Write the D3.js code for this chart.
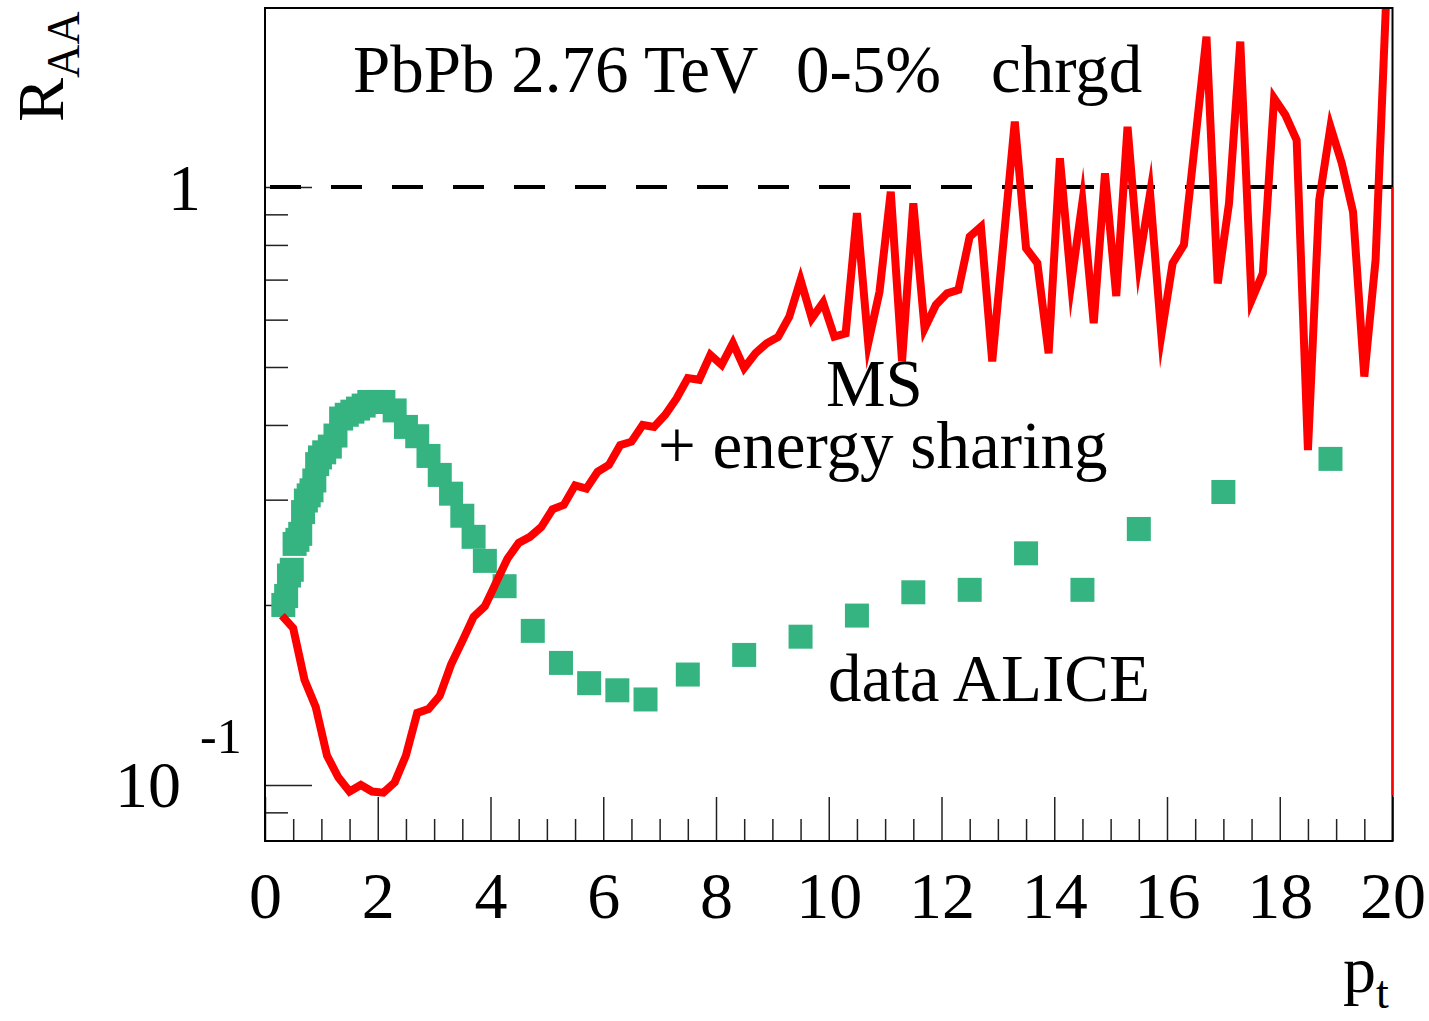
<!DOCTYPE html>
<html lang="en">
<head>
<meta charset="UTF-8">
<title>R_AA PbPb 2.76 TeV</title>
<script src="https://d3js.org/d3.v7.min.js"></script>
<style>
    body { margin: 0; background: white; }
    svg text { font-family: "Liberation Serif", "Times New Roman", serif; fill: black; }
    .axis path { display: none; }
    .axis line { stroke: #222; stroke-width: 1.5; }
</style>
</head>
<body>
<div id="chart"></div>
<script>
    // model curve: MS + energy sharing
    const modelPt = [0.3, 0.5, 0.7, 0.9, 1.1, 1.3, 1.5, 1.7, 1.9, 2.1, 2.3, 2.5, 2.7, 2.9, 3.1, 3.3, 3.5, 3.7, 3.9,
        4.1, 4.3, 4.5, 4.7, 4.9, 5.1, 5.3, 5.5, 5.7, 5.9, 6.1, 6.3, 6.5, 6.7, 6.9, 7.1, 7.3, 7.5, 7.7, 7.9,
        8.1, 8.3, 8.5, 8.7, 8.9, 9.1, 9.3, 9.5, 9.7, 9.9, 10.1, 10.3, 10.5, 10.7, 10.9, 11.1, 11.3, 11.5, 11.7, 11.9,
        12.1, 12.3, 12.5, 12.7, 12.9, 13.3, 13.5, 13.7, 13.9, 14.1, 14.3, 14.5, 14.7, 14.9,
        15.1, 15.3, 15.5, 15.7, 15.9, 16.1, 16.3, 16.7, 16.9, 17.1, 17.3, 17.5, 17.7, 17.9,
        18.1, 18.3, 18.5, 18.7, 18.9, 19.1, 19.3, 19.5, 19.7, 19.9];
    const modelRaa = [0.192, 0.183, 0.150, 0.135, 0.112, 0.103, 0.0975, 0.100, 0.0975, 0.0971, 0.101, 0.112, 0.132, 0.134, 0.141, 0.159, 0.174, 0.191, 0.199,
        0.218, 0.239, 0.254, 0.260, 0.270, 0.289, 0.294, 0.317, 0.313, 0.334, 0.343, 0.370, 0.375, 0.400, 0.397, 0.416, 0.443, 0.479, 0.476, 0.524,
        0.504, 0.548, 0.498, 0.527, 0.548, 0.561, 0.607, 0.699, 0.603, 0.641, 0.562, 0.569, 0.904, 0.548, 0.668, 0.982, 0.511, 0.939, 0.580, 0.635,
        0.664, 0.673, 0.826, 0.858, 0.511, 1.286, 0.790, 0.746, 0.527, 1.117, 0.690, 0.945, 0.592, 1.054,
        0.657, 1.261, 0.746, 0.976, 0.566, 0.746, 0.800, 1.784, 0.690, 0.939, 1.750, 0.647, 0.717, 1.407,
        1.319, 1.198, 0.363, 0.951, 1.261, 1.096, 0.909, 0.482, 0.755, 2.2];

    // ALICE data points
    const alicePt = [0.325, 0.375, 0.425, 0.475, 0.525, 0.575, 0.625, 0.675, 0.725, 0.775, 0.825, 0.875, 0.925, 0.975,
        1.05, 1.15, 1.25, 1.35, 1.45, 1.55, 1.65, 1.75, 1.85, 1.95,
        2.1, 2.3, 2.5, 2.7, 2.9, 3.1, 3.3, 3.5, 3.7, 3.9,
        4.25, 4.75, 5.25, 5.75, 6.25, 6.75, 7.5, 8.5, 9.5, 10.5, 11.5, 12.5, 13.5, 14.5, 15.5, 17, 18.9];
    const aliceRaa = [0.200, 0.207, 0.224, 0.229, 0.253, 0.257, 0.263, 0.286, 0.299, 0.305, 0.311, 0.323, 0.344, 0.353,
        0.360, 0.368, 0.384, 0.410, 0.416, 0.421, 0.426, 0.431, 0.437, 0.437,
        0.437, 0.423, 0.397, 0.383, 0.355, 0.330, 0.307, 0.282, 0.260, 0.237,
        0.215, 0.181, 0.160, 0.148, 0.144, 0.139, 0.153, 0.165, 0.177, 0.192, 0.210, 0.212, 0.244, 0.212, 0.268, 0.309, 0.351];

    const xMajor = [0, 2, 4, 6, 8, 10, 12, 14, 16, 18, 20];
    const xMinor = d3.range(0.5, 20, 0.5).filter(d => d % 2 !== 0);
    const yMajor = [0.1, 1];
    const yMinor = [0.09, 0.2, 0.3, 0.4, 0.5, 0.6, 0.7, 0.8, 0.9];

    const W = 1429, H = 1021;
    const frame = { left: 265, right: 1392.5, top: 8, bottom: 841 };

    const svg = d3.select("#chart").append("svg")
        .attr("width", W)
        .attr("height", H);

    const x = d3.scaleLinear().domain([0, 20]).range([frame.left, frame.right]);
    const y = d3.scaleLog().domain([0.0806, 1.992]).range([frame.bottom, frame.top]);

    svg.append("defs").append("clipPath")
        .attr("id", "plot-clip")
        .append("rect")
        .attr("x", frame.left)
        .attr("y", frame.top)
        .attr("width", frame.right - frame.left)
        .attr("height", frame.bottom - frame.top);

    // axes, ROOT style ticks pointing inward
    svg.append("g")
        .attr("class", "axis")
        .attr("transform", `translate(0,${frame.bottom})`)
        .call(d3.axisBottom(x).tickValues(xMinor).tickSize(-22).tickFormat(""));

    const xAxis = svg.append("g")
        .attr("class", "axis")
        .attr("transform", `translate(0,${frame.bottom})`)
        .call(d3.axisBottom(x).tickValues(xMajor).tickSize(-44).tickPadding(30).tickFormat(d3.format("d")));
    xAxis.selectAll("text")
        .attr("font-size", 66)
        .attr("font-family", "Liberation Serif, Times New Roman, serif");

    svg.append("g")
        .attr("class", "axis")
        .attr("transform", `translate(${frame.left},0)`)
        .call(d3.axisLeft(y).tickValues(yMinor).tickSize(-23).tickFormat(""));

    svg.append("g")
        .attr("class", "axis")
        .attr("transform", `translate(${frame.left},0)`)
        .call(d3.axisLeft(y).tickValues(yMajor).tickSize(-47).tickFormat(""));

    // y tick labels
    svg.append("text")
        .attr("x", 201)
        .attr("y", y(1) + 23)
        .attr("text-anchor", "end")
        .attr("font-size", 66)
        .text("1");

    svg.append("text")
        .attr("x", 115)
        .attr("y", y(0.1) + 22)
        .attr("font-size", 66)
        .text("10");

    svg.append("text")
        .attr("x", 200)
        .attr("y", y(0.1) - 32)
        .attr("font-size", 50)
        .text("-1");

    // dashed line at 1
    svg.append("line")
        .attr("x1", x(0))
        .attr("x2", x(20))
        .attr("y1", y(1))
        .attr("y2", y(1))
        .attr("stroke", "black")
        .attr("stroke-width", 4)
        .attr("stroke-dasharray", "31,30")
        .attr("stroke-dashoffset", 56);

    // data squares
    svg.append("g")
        .selectAll("rect")
        .data(alicePt)
        .join("rect")
        .attr("x", (d, i) => x(d) - 12)
        .attr("y", (d, i) => y(aliceRaa[i]) - 12)
        .attr("width", 24)
        .attr("height", 24)
        .attr("fill", "#35b482");

    // model curve
    const line = d3.line()
        .x((d, i) => x(modelPt[i]))
        .y(d => y(d));

    svg.append("path")
        .datum(modelRaa)
        .attr("clip-path", "url(#plot-clip)")
        .attr("d", line)
        .attr("fill", "none")
        .attr("stroke", "#ff0000")
        .attr("stroke-width", 8)
        .attr("stroke-linejoin", "miter")
        .attr("stroke-miterlimit", 10);

    // frame
    svg.append("rect")
        .attr("x", frame.left)
        .attr("y", frame.top)
        .attr("width", frame.right - frame.left)
        .attr("height", frame.bottom - frame.top)
        .attr("fill", "none")
        .attr("stroke", "black")
        .attr("stroke-width", 2);

    // thin red edge at pt = 20
    svg.append("line")
        .attr("x1", x(20))
        .attr("x2", x(20))
        .attr("y1", y(1))
        .attr("y2", y(0.0962))
        .attr("stroke", "#ff0000")
        .attr("stroke-width", 2);

    // labels
    const labels = [
        { t: "PbPb 2.76 TeV", x: 353, y: 92 },
        { t: "0-5%", x: 796, y: 92 },
        { t: "chrgd", x: 991, y: 92 },
        { t: "MS", x: 826, y: 406 },
        { t: "+ energy sharing", x: 658, y: 468 },
        { t: "data ALICE", x: 828, y: 701 }
    ];
    svg.append("g")
        .selectAll("text")
        .data(labels)
        .join("text")
        .attr("x", d => d.x)
        .attr("y", d => d.y)
        .attr("font-size", 67)
        .text(d => d.t);

    // axis titles
    const yTitle = svg.append("text")
        .attr("transform", "translate(63,122) rotate(-90)")
        .attr("font-size", 66);
    yTitle.append("tspan").text("R");
    yTitle.append("tspan").attr("font-size", 46).attr("dy", 16).text("AA");

    const xTitle = svg.append("text")
        .attr("x", 1343)
        .attr("y", 992)
        .attr("font-size", 66);
    xTitle.append("tspan").text("p");
    xTitle.append("tspan").attr("font-size", 46).attr("dy", 16).text("t");
</script>
</body>
</html>
